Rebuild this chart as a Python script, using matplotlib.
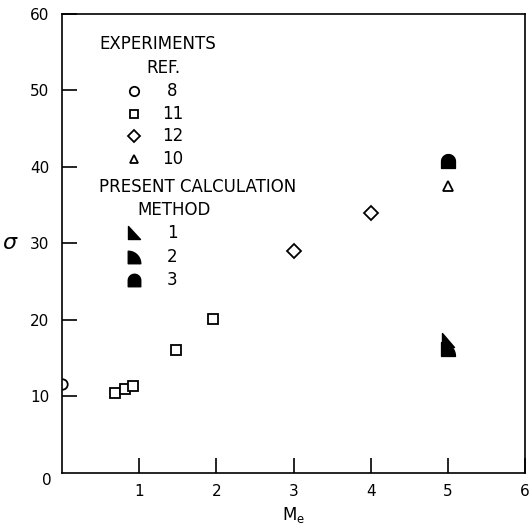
import numpy as np
import matplotlib
matplotlib.use("Agg")
from matplotlib import pyplot as plt
from matplotlib.path import Path

# experiments (Mach number, sigma)
ref8_m = [0.0]
ref8_s = [11.6]
ref11_m = [0.69, 0.81, 0.92, 1.48, 1.95]
ref11_s = [10.5, 11.0, 11.4, 16.0, 20.1]
ref12_m = [3.0, 4.0]
ref12_s = [29.0, 34.0]
ref10_m = [5.0]
ref10_s = [37.5]

# present calculation
meth1_m = [5.0]
meth1_s = [17.2]
meth2_m = [5.0]
meth2_s = [16.2]
meth3_m = [5.0]
meth3_s = [40.8]

ref_labels = ["8", "11", "12", "10"]
method_labels = ["1", "2", "3"]
x_ticks = [1, 2, 3, 4, 5, 6]
y_ticks = [10, 20, 30, 40, 50, 60]


def wedge_marker():
    return Path([(-0.5, 0.6), (-0.5, -0.5), (0.5, -0.5), (-0.5, 0.6)],
                [Path.MOVETO, Path.LINETO, Path.LINETO, Path.CLOSEPOLY])


def quarter_marker():
    t = np.linspace(np.pi / 2, 0, 20)
    pts = [(-0.5, -0.5)] + [(-0.5 + np.cos(a), -0.5 + np.sin(a)) for a in t]
    pts.append((-0.5, -0.5))
    codes = [Path.MOVETO] + [Path.LINETO] * (len(pts) - 2) + [Path.CLOSEPOLY]
    return Path(pts, codes)


def dome_marker():
    t = np.linspace(0, np.pi, 20)
    pts = [(-0.5, -0.5), (0.5, -0.5)] + [(0.5 * np.cos(a), 0.5 * np.sin(a)) for a in t]
    pts.append((-0.5, -0.5))
    codes = [Path.MOVETO] + [Path.LINETO] * (len(pts) - 2) + [Path.CLOSEPOLY]
    return Path(pts, codes)


plt.rcParams["font.family"] = "DejaVu Sans"

fig = plt.figure(figsize=(5.30, 5.29), dpi=100)
ax = fig.add_axes([0.117, 0.106, 0.874, 0.868])

open_kw = dict(linestyle="none", markerfacecolor="white", markeredgecolor="black",
               markeredgewidth=1.3, color="black")

styles = [("o", 7.5), ("s", 6.5), ("D", 7.0), ("^", 7.0)]
series = [(ref8_m, ref8_s), (ref11_m, ref11_s), (ref12_m, ref12_s), (ref10_m, ref10_s)]
for (mk, ms), (xm, ys) in zip(styles, series):
    ax.plot(xm, ys, marker=mk, markersize=ms, **open_kw)

filled = [(wedge_marker(), 11), (quarter_marker(), 10), (dome_marker(), 10)]
meth_series = [(meth1_m, meth1_s), (meth2_m, meth2_s), (meth3_m, meth3_s)]
for (mk, ms), (xm, ys) in zip(filled, meth_series):
    ax.plot(xm, ys, marker=mk, markersize=ms, linestyle="none", color="black")

# legend block drawn by hand
fs = 12
ax.text(0.48, 56.0, "EXPERIMENTS", fontsize=fs, va="center", ha="left")
ax.text(1.09, 52.9, "REF.", fontsize=fs, va="center", ha="left")
row_y = 49.9
for (mk, ms), lab in zip(styles, ref_labels):
    ax.plot([0.93], [row_y], marker=mk, markersize=ms * 0.9, **open_kw)
    ax.text(1.43, row_y, lab, fontsize=fs, va="center", ha="center")
    row_y -= 2.95

ax.text(0.48, 37.3, "PRESENT CALCULATION", fontsize=fs, va="center", ha="left")
ax.text(0.97, 34.4, "METHOD", fontsize=fs, va="center", ha="left")
row_y = 31.3
for (mk, ms), lab in zip(filled, method_labels):
    ax.plot([0.93], [row_y], marker=mk, markersize=ms * 0.9, linestyle="none", color="black")
    ax.text(1.43, row_y, lab, fontsize=fs, va="center", ha="center")
    row_y -= 3.05

ax.set_xlim(0, 6)
ax.set_ylim(0, 60)
ax.set_xticks(x_ticks)
ax.set_xticklabels([str(t) for t in x_ticks])
ax.set_yticks(y_ticks)
ax.set_yticklabels([str(t) for t in y_ticks])
ax.tick_params(direction="in", length=11, width=1.2, labelsize=11, pad=8)
ax.tick_params(axis="y", pad=9)
# the origin label sits left of the corner
ax.text(-0.2, 0, "0", fontsize=11, ha="center", va="top",
        transform=ax.get_xaxis_transform(), clip_on=False)
for sp in ax.spines.values():
    sp.set_linewidth(1.2)

ax.set_xlabel(r"$\mathregular{M_e}$", fontsize=12, labelpad=4)
ax.set_ylabel(r"$\sigma$", fontsize=16, rotation=0, labelpad=14, va="center")

fig.savefig("out.png", dpi=100)
